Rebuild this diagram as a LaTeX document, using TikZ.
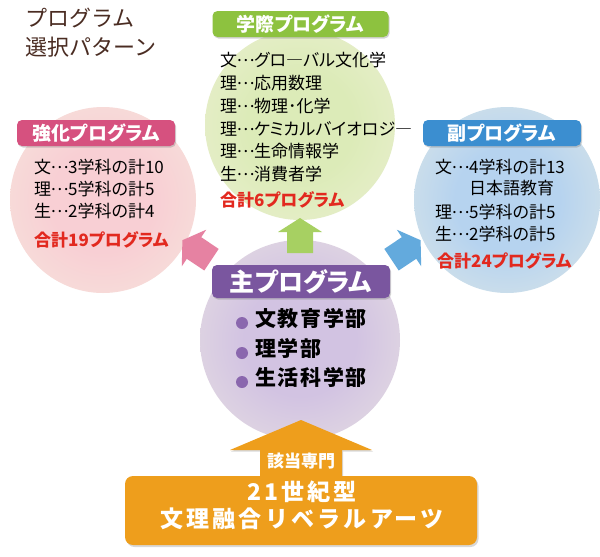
\documentclass[tikz,border=0pt]{standalone}
\usepackage{fontspec}
\setmainfont{Noto Sans CJK JP}[RawFeature={+palt}]
\newfontfamily\jpwide{Noto Sans CJK JP}
\usetikzlibrary{shadows}
\newcommand\middots{\makebox[1em][c]{\raisebox{0.3em}{…}}}
\definecolor{cream}{HTML}{F5F3E2}
\definecolor{ginner}{HTML}{DCEBB8}
\definecolor{pinner}{HTML}{F8CFD4}
\definecolor{binner}{HTML}{B6D3EF}
\definecolor{uinner}{HTML}{D2C3E2}
\definecolor{glabel}{HTML}{8DC23F}
\definecolor{plabel}{HTML}{D6517F}
\definecolor{blabel}{HTML}{3B8ED0}
\definecolor{ulabel}{HTML}{7A569F}
\definecolor{garrow}{HTML}{A7D062}
\definecolor{parrow}{HTML}{E682A2}
\definecolor{barrow}{HTML}{63AADD}
\definecolor{udot}{HTML}{8A67AE}
\definecolor{orange1}{HTML}{EE9E1C}
\definecolor{redtxt}{HTML}{E2291F}
\definecolor{brown1}{HTML}{4A2C22}
\pgfdeclareradialshading{gsh}{\pgfpoint{0bp}{0bp}}{color(0bp)=(ginner); color(14bp)=(ginner); color(50bp)=(cream)}
\pgfdeclareradialshading{psh}{\pgfpoint{0bp}{0bp}}{color(0bp)=(pinner); color(14bp)=(pinner); color(50bp)=(cream)}
\pgfdeclareradialshading{bsh}{\pgfpoint{0bp}{0bp}}{color(0bp)=(binner); color(14bp)=(binner); color(50bp)=(cream)}
\pgfdeclareradialshading{ush}{\pgfpoint{0bp}{0bp}}{color(0bp)=(uinner); color(14bp)=(uinner); color(50bp)=(cream)}
\tikzset{
  bigcirc/.style={circle, inner sep=0pt, minimum size=#1, shade},
  label/.style={rounded corners=5pt, inner sep=0pt, text=white,
     font=\fontsize{19}{19}\selectfont\bfseries,
     drop shadow={shadow xshift=1pt, shadow yshift=-1.5pt, opacity=0.35}},
  body/.style={anchor=west, inner sep=0pt, text height=0.88em, text depth=0.12em,
     font=\fontsize{17}{17}\selectfont},
  total/.style={body, text=redtxt, font=\fontsize{17}{17}\selectfont\bfseries},
  titletxt/.style={anchor=west, inner sep=0pt, text=brown1, text height=0.88em, text depth=0.12em,
     font=\jpwide\fontsize{22}{22}\selectfont},
  bullettxt/.style={anchor=west, inner sep=0pt, text height=0.88em, text depth=0.12em,
     font=\jpwide\fontsize{21}{21}\selectfont\bfseries\addfontfeature{LetterSpace=8}},
  dot/.style={circle, fill=udot, inner sep=0pt, minimum size=12pt},
  orangetxt/.style={inner sep=0pt, text=white, text height=0.88em, text depth=0.12em,
     font=\jpwide\fontsize{23}{23}\selectfont\bfseries\addfontfeature{LetterSpace=14}},
}
\begin{document}
\begin{tikzpicture}[x=1pt,y=-1pt]
\useasboundingbox[fill=white] (0,0) rectangle (600,557);
% circles
\node[bigcirc=190pt, shading=gsh] (gc) at (300,125) {};
\node[bigcirc=186pt, shading=psh] (pc) at (103,200) {};
\node[bigcirc=186pt, shading=bsh] (bc) at (507,200) {};
\node[bigcirc=200pt, shading=ush] (uc) at (300,340) {};
% title
\node[titletxt] (t1) at (25,23) {プログラム};
\node[titletxt] (t2) at (25,52) {選択パターン};
% block arrows
\fill[garrow] (300,218) -- (322,232) -- (313,232) -- (313,253) -- (287,253) -- (287,232) -- (278,232) -- cycle;
\fill[parrow] (182.4,240.2) -- (206.2,229.7) -- (201.2,237.2) -- (218.7,248.9) -- (204.3,270.5) -- (186.8,258.8) -- (181.8,266.3) -- cycle;
\fill[barrow] (420.6,240.2) -- (396.8,229.7) -- (401.8,237.2) -- (384.3,248.9) -- (398.7,270.5) -- (416.2,258.8) -- (421.2,266.3) -- cycle;
% labels
\node[label, fill=glabel, minimum width=176pt, minimum height=26pt] (gl) at (300.5,24) {学際プログラム};
\node[label, fill=plabel, minimum width=158pt, minimum height=26pt] (pl) at (96,133) {強化プログラム};
\node[label, fill=blabel, minimum width=158pt, minimum height=26pt] (bl) at (502,133) {副プログラム};
\node[label, fill=ulabel, minimum width=178pt, minimum height=33pt, font=\fontsize{25}{25}\selectfont\bfseries] (ul) at (301,281.5) {主プログラム};
% green text
\node[body] (g1) at (220,63) {文\middots グロ―バル文化学};
\node[body] (g2) at (220,86) {理\middots 応用数理};
\node[body] (g3) at (220,109) {理\middots 物理･化学};
\node[body] (g4) at (220,132) {理\middots ケミカルバイオロジ―};
\node[body] (g5) at (220,154) {理\middots 生命情報学};
\node[body] (g6) at (220,177) {生\middots 消費者学};
\node[total] (g7) at (220,203) {合計6プログラム};
% pink text
\node[body] (p1) at (34,170) {文\middots 3学科の計10};
\node[body] (p2) at (34,192) {理\middots 5学科の計5};
\node[body] (p3) at (34,214) {生\middots 2学科の計4};
\node[total] (p4) at (34,243) {合計19プログラム};
% blue text
\node[body] (b1) at (435,170) {文\middots 4学科の計13};
\node[body] (b2) at (469,191) {日本語教育};
\node[body] (b3) at (435,215) {理\middots 5学科の計5};
\node[body] (b4) at (435,237) {生\middots 2学科の計5};
\node[total] (b5) at (437,264) {合計24プログラム};
% bullets
\node[dot] (d1) at (242,323) {};
\node[dot] (d2) at (242,353) {};
\node[dot] (d3) at (242,382) {};
\node[bullettxt] (u1) at (255,323) {文教育学部};
\node[bullettxt] (u2) at (255,353) {理学部};
\node[bullettxt] (u3) at (255,382) {生活科学部};
% orange arrow and box
\fill[orange1, drop shadow={shadow xshift=1pt, shadow yshift=-1.5pt, opacity=0.3}] (301,420) -- (372,450) -- (342,450) -- (342,480) -- (260,480) -- (260,450) -- (230,450) -- cycle;
\node[rounded corners=8pt, fill=orange1, minimum width=352pt, minimum height=69pt, inner sep=0pt,
  drop shadow={shadow xshift=1.5pt, shadow yshift=-2pt, opacity=0.3}] (ob) at (301,510.5) {};
\node[inner sep=0pt, text=white, font=\jpwide\fontsize{17}{17}\selectfont\bfseries] (o0) at (301,461) {該当専門};
\node[orangetxt] (o1) at (302,497) {21世紀型};
\node[orangetxt] (o2) at (302,524) {文理融合リベラルアーツ};
\end{tikzpicture}
\end{document}
